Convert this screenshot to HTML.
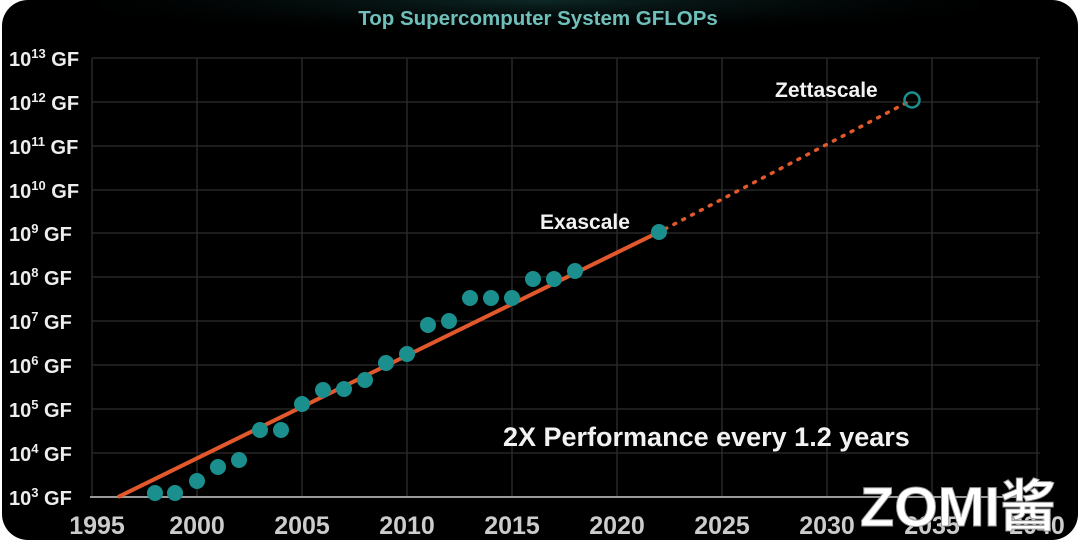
<!DOCTYPE html>
<html><head><style>
html,body{margin:0;padding:0;background:#fff;}
.wrap{position:relative;width:1080px;height:542px;overflow:hidden;}
.bg{position:absolute;left:2px;top:0;width:1076px;height:540px;background:#000;border-radius:26px;}
</style></head><body><div class="wrap"><div class="bg"></div>
<svg width="1080" height="542" style="position:absolute;left:0;top:0" font-family="Liberation Sans, Arial, sans-serif">
<defs><radialGradient id="g" cx="0.5" cy="0" r="0.6"><stop offset="0" stop-color="#123a38" stop-opacity="0.7"/><stop offset="1" stop-color="#000" stop-opacity="0"/></radialGradient></defs>
<rect x="100" y="0" width="880" height="60" fill="url(#g)"/>
<text x="538" y="25" text-anchor="middle" fill="#6fbfbb" font-weight="bold" font-size="20.5">Top Supercomputer System GFLOPs</text>
<g stroke="#2e2e2e" stroke-width="1.3">
<line x1="92" y1="58" x2="1040" y2="58"/><line x1="92" y1="102" x2="1040" y2="102"/><line x1="92" y1="146" x2="1040" y2="146"/><line x1="92" y1="190" x2="1040" y2="190"/><line x1="92" y1="233" x2="1040" y2="233"/><line x1="92" y1="277" x2="1040" y2="277"/><line x1="92" y1="321" x2="1040" y2="321"/><line x1="92" y1="365" x2="1040" y2="365"/><line x1="92" y1="409" x2="1040" y2="409"/><line x1="92" y1="453" x2="1040" y2="453"/>
<line x1="92" y1="58" x2="92" y2="497"/><line x1="197" y1="58" x2="197" y2="497"/><line x1="302" y1="58" x2="302" y2="497"/><line x1="407" y1="58" x2="407" y2="497"/><line x1="512" y1="58" x2="512" y2="497"/><line x1="617" y1="58" x2="617" y2="497"/><line x1="722" y1="58" x2="722" y2="497"/><line x1="827" y1="58" x2="827" y2="497"/><line x1="932" y1="58" x2="932" y2="497"/><line x1="1037" y1="58" x2="1037" y2="497"/>
</g>
<line x1="90" y1="497" x2="1040" y2="497" stroke="#9a9a9a" stroke-width="2"/>
<g fill="#eee" font-weight="bold" font-size="20">
<text x="9" y="66">10<tspan font-size="13" dy="-8">13</tspan><tspan dy="8"> GF</tspan></text>
<text x="9" y="110">10<tspan font-size="13" dy="-8">12</tspan><tspan dy="8"> GF</tspan></text>
<text x="9" y="154">10<tspan font-size="13" dy="-8">11</tspan><tspan dy="8"> GF</tspan></text>
<text x="9" y="198">10<tspan font-size="13" dy="-8">10</tspan><tspan dy="8"> GF</tspan></text>
<text x="9" y="241">10<tspan font-size="13" dy="-8">9</tspan><tspan dy="8"> GF</tspan></text>
<text x="9" y="285">10<tspan font-size="13" dy="-8">8</tspan><tspan dy="8"> GF</tspan></text>
<text x="9" y="329">10<tspan font-size="13" dy="-8">7</tspan><tspan dy="8"> GF</tspan></text>
<text x="9" y="373">10<tspan font-size="13" dy="-8">6</tspan><tspan dy="8"> GF</tspan></text>
<text x="9" y="417">10<tspan font-size="13" dy="-8">5</tspan><tspan dy="8"> GF</tspan></text>
<text x="9" y="461">10<tspan font-size="13" dy="-8">4</tspan><tspan dy="8"> GF</tspan></text>
<text x="9" y="505">10<tspan font-size="13" dy="-8">3</tspan><tspan dy="8"> GF</tspan></text>
</g>
<g fill="#ccc" font-weight="bold" font-size="25" text-anchor="middle">
<text x="97" y="534">1995</text><text x="197" y="534">2000</text><text x="302" y="534">2005</text><text x="407" y="534">2010</text><text x="512" y="534">2015</text><text x="617" y="534">2020</text><text x="722" y="534">2025</text><text x="827" y="534">2030</text><text x="932" y="534">2035</text><text x="1037" y="534">2040</text>
</g>
<line x1="118" y1="497" x2="659" y2="232" stroke="#e0582c" stroke-width="4"/>
<line x1="665" y1="229" x2="906" y2="103" stroke="#e0582c" stroke-width="3.5" stroke-dasharray="2 8" stroke-linecap="round"/>
<g fill="#1a8f8e">
<circle cx="155" cy="493" r="8"/><circle cx="175" cy="493" r="8"/><circle cx="197" cy="481" r="8"/><circle cx="218" cy="467" r="8"/><circle cx="239" cy="460" r="8"/><circle cx="260" cy="430" r="8"/><circle cx="281" cy="430" r="8"/><circle cx="302" cy="404" r="8"/><circle cx="323" cy="390" r="8"/><circle cx="344" cy="389" r="8"/><circle cx="365" cy="380" r="8"/><circle cx="386" cy="363" r="8"/><circle cx="407" cy="354" r="8"/><circle cx="428" cy="325" r="8"/><circle cx="449" cy="321" r="8"/><circle cx="470" cy="298" r="8"/><circle cx="491" cy="298" r="8"/><circle cx="512" cy="298" r="8"/><circle cx="533" cy="279" r="8"/><circle cx="554" cy="279" r="8"/><circle cx="575" cy="271" r="8"/><circle cx="659" cy="232" r="8"/>
</g>
<circle cx="912" cy="100" r="7.5" fill="none" stroke="#1a8f8e" stroke-width="2.5"/>
<g fill="#f2f2f2" font-weight="bold">
<text x="540" y="229" font-size="21">Exascale</text>
<text x="775" y="97" font-size="21">Zettascale</text>
<text x="503" y="446" font-size="27">2X Performance every 1.2 years</text>
</g>
<text x="860" y="526" font-size="56" font-weight="bold" fill="#fff" stroke="#999" stroke-width="1">ZOMI<tspan font-family="Noto Sans CJK SC, sans-serif">酱</tspan></text>
</svg></div></body></html>
